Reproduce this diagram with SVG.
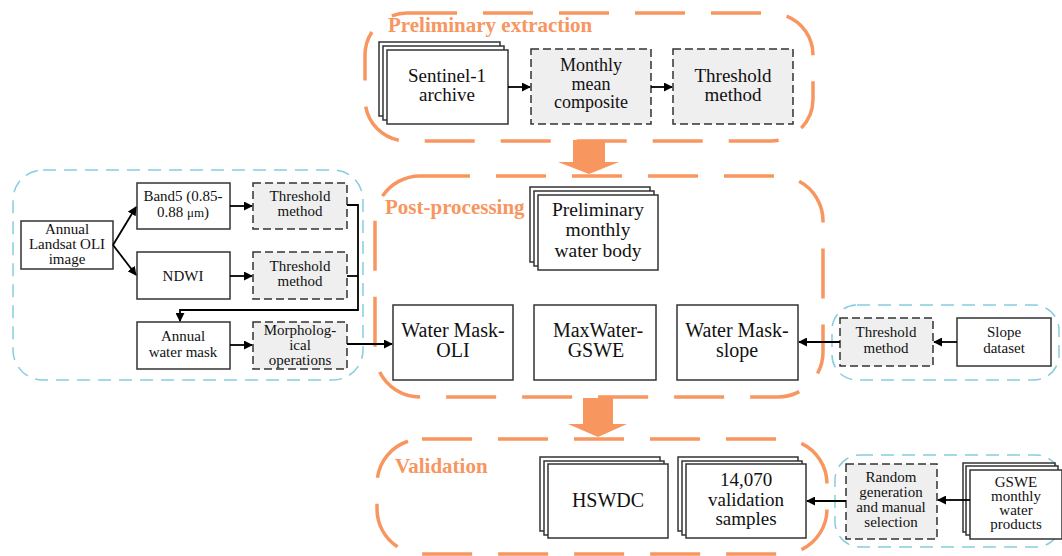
<svg xmlns="http://www.w3.org/2000/svg" width="1062" height="556" viewBox="0 0 1062 556">
<defs>
<style>
text{font-family:"Liberation Serif","Times New Roman","DejaVu Serif",serif;}
.grp-o{fill:none;stroke:#f7965f;stroke-width:3.5;stroke-dasharray:50 26;}
.grp-c{fill:none;stroke:#86cde0;stroke-width:1.5;stroke-dasharray:13 8;}
.title{font-weight:bold;font-size:21px;fill:#f7965f;}
.box{fill:#fff;stroke:#333;stroke-width:1.5;}
.dbox{fill:#efefef;stroke:#333;stroke-width:1.5;stroke-dasharray:8 4;}
.t20{font-size:19px;fill:#111;text-anchor:middle;}
.t21{font-size:20px;fill:#111;text-anchor:middle;}
.t16{font-size:15px;fill:#111;text-anchor:middle;}
.con{fill:none;stroke:#000;stroke-width:1.8;}
.big{fill:#f7965f;stroke:none;}
</style>
<marker id="ah" viewBox="0 0 10 10" refX="9" refY="5" markerWidth="5" markerHeight="5" orient="auto" markerUnits="strokeWidth">
<path d="M0,0 L10,5 L0,10 Z" fill="#000"/>
</marker>
</defs>
<rect width="1062" height="556" fill="#fff"/>

<!-- group containers -->
<g id="group-preliminary">
<rect class="grp-o" x="365" y="13" width="448" height="128" rx="42"/>
<text class="title" x="388" y="32">Preliminary extraction</text>
</g>
<g id="group-postprocessing">
<rect class="grp-o" x="375" y="176" width="448" height="221" rx="45"/>
<text class="title" x="385" y="214">Post-processing</text>
</g>
<g id="group-validation">
<rect class="grp-o" x="377" y="439" width="450" height="115" rx="45"/>
<text class="title" x="395" y="473">Validation</text>
</g>
<g id="group-landsat">
<rect class="grp-c" x="13" y="170" width="350" height="210" rx="30"/>
</g>
<g id="group-slope">
<rect class="grp-c" x="832" y="305" width="227" height="75" rx="25"/>
</g>
<g id="group-gswe">
<rect class="grp-c" x="835" y="455" width="226" height="92" rx="25"/>
</g>

<!-- big orange arrows -->
<g id="flow-arrows">
<path class="big" d="M573,140 L605,140 L605,162 L619,162 L589,174 L558,162 L573,162 Z"/>
<path class="big" d="M583,398 L613,398 L613,424 L627,424 L598,437 L568,424 L583,424 Z"/>
</g>

<!-- nodes -->
<g id="sentinel1">
<rect class="box" x="379" y="42" width="121" height="74"/>
<rect class="box" x="383" y="46" width="121" height="74"/>
<rect class="box" x="387" y="50" width="121" height="74"/>
<text class="t20" x="447" y="82">Sentinel-1</text>
<text class="t20" x="447" y="101">archive</text>
</g>
<g id="monthly-composite">
<rect class="dbox" x="531" y="49" width="120" height="75"/>
<text class="t20" x="591" y="71" style="font-size:18px">Monthly</text>
<text class="t20" x="591" y="89.5" style="font-size:18px">mean</text>
<text class="t20" x="591" y="108" style="font-size:18px">composite</text>
</g>
<g id="threshold-s1">
<rect class="dbox" x="673" y="49" width="120" height="75"/>
<text class="t20" x="733" y="82">Threshold</text>
<text class="t20" x="733" y="101">method</text>
</g>

<g id="prelim-water">
<rect class="box" x="530" y="187" width="120" height="75"/>
<rect class="box" x="534" y="191" width="120" height="75"/>
<rect class="box" x="538" y="195" width="120" height="75"/>
<text class="t21" x="598" y="216" style="font-size:19.5px">Preliminary</text>
<text class="t21" x="598" y="236" style="font-size:19.5px">monthly</text>
<text class="t21" x="598" y="257" style="font-size:19.5px">water body</text>
</g>
<g id="watermask-oli">
<rect class="box" x="393" y="305" width="120" height="75"/>
<text class="t21" x="453" y="337">Water Mask-</text>
<text class="t21" x="453" y="357">OLI</text>
</g>
<g id="maxwater-gswe">
<rect class="box" x="534" y="305" width="122" height="75"/>
<text class="t21" x="598" y="337">MaxWater-</text>
<text class="t21" x="596" y="357">GSWE</text>
</g>
<g id="watermask-slope">
<rect class="box" x="677" y="305" width="121" height="75"/>
<text class="t21" x="737" y="337">Water Mask-</text>
<text class="t21" x="737" y="357">slope</text>
</g>

<g id="landsat">
<rect class="box" x="21" y="221" width="92" height="48"/>
<text class="t16" x="67" y="234">Annual</text>
<text class="t16" x="67" y="249">Landsat OLI</text>
<text class="t16" x="67" y="264">image</text>
</g>
<g id="band5">
<rect class="box" x="137" y="183" width="93" height="46"/>
<text class="t16" x="183" y="201">Band5 (0.85-</text>
<text class="t16" x="183" y="217">0.88 <tspan style="font-size:13px">μm</tspan>)</text>
</g>
<g id="threshold-band5">
<rect class="dbox" x="253" y="183" width="94" height="46"/>
<text class="t16" x="300" y="201">Threshold</text>
<text class="t16" x="300" y="216">method</text>
</g>
<g id="ndwi">
<rect class="box" x="137" y="252" width="93" height="47"/>
<text class="t16" x="183" y="281">NDWI</text>
</g>
<g id="threshold-ndwi">
<rect class="dbox" x="253" y="252" width="94" height="47"/>
<text class="t16" x="300" y="271">Threshold</text>
<text class="t16" x="300" y="286">method</text>
</g>
<g id="annual-water-mask">
<rect class="box" x="137" y="322" width="93" height="47"/>
<text class="t16" x="183" y="341">Annual</text>
<text class="t16" x="183" y="357">water mask</text>
</g>
<g id="morphological">
<rect class="dbox" x="253" y="322" width="94" height="47"/>
<text class="t16" x="300" y="335">Morpholog-</text>
<text class="t16" x="300" y="350">ical</text>
<text class="t16" x="300" y="365">operations</text>
</g>

<g id="threshold-slope">
<rect class="dbox" x="840" y="318" width="93" height="48"/>
<text class="t16" x="886" y="337">Threshold</text>
<text class="t16" x="886" y="353">method</text>
</g>
<g id="slope-dataset">
<rect class="box" x="957" y="318" width="94" height="48"/>
<text class="t16" x="1004" y="337">Slope</text>
<text class="t16" x="1004" y="353">dataset</text>
</g>

<g id="hswdc">
<rect class="box" x="540" y="457" width="120" height="74"/>
<rect class="box" x="544" y="461" width="120" height="74"/>
<rect class="box" x="548" y="464" width="120" height="74"/>
<text class="t21" x="608" y="507">HSWDC</text>
</g>
<g id="validation-samples">
<rect class="box" x="678" y="457" width="120" height="74"/>
<rect class="box" x="682" y="461" width="120" height="74"/>
<rect class="box" x="686" y="464" width="120" height="74"/>
<text class="t21" x="746" y="486" style="font-size:19px">14,070</text>
<text class="t21" x="746" y="505.5" style="font-size:19px">validation</text>
<text class="t21" x="746" y="525" style="font-size:19px">samples</text>
</g>
<g id="random-generation">
<rect class="dbox" x="846" y="464" width="91" height="75"/>
<text class="t16" x="891" y="482">Random</text>
<text class="t16" x="891" y="497">generation</text>
<text class="t16" x="891" y="512">and manual</text>
<text class="t16" x="891" y="527">selection</text>
</g>
<g id="gswe-products">
<rect class="box" x="963" y="463" width="92" height="69"/>
<rect class="box" x="966" y="466" width="92" height="69"/>
<rect class="box" x="970" y="470" width="92" height="69"/>
<text class="t16" x="1016" y="487">GSWE</text>
<text class="t16" x="1016" y="501">monthly</text>
<text class="t16" x="1016" y="515">water</text>
<text class="t16" x="1016" y="529">products</text>
</g>

<!-- connectors -->
<g id="connectors">
<line class="con" x1="508" y1="87" x2="530" y2="87" marker-end="url(#ah)"/>
<line class="con" x1="651" y1="87" x2="672" y2="87" marker-end="url(#ah)"/>
<line class="con" x1="113" y1="245" x2="136" y2="207" marker-end="url(#ah)"/>
<line class="con" x1="113" y1="245" x2="136" y2="275" marker-end="url(#ah)"/>
<line class="con" x1="230" y1="206" x2="252" y2="206" marker-end="url(#ah)"/>
<line class="con" x1="230" y1="276" x2="252" y2="276" marker-end="url(#ah)"/>
<polyline class="con" points="347,205 358,205 358,310 180,310 180,321" marker-end="url(#ah)"/>
<line class="con" x1="347" y1="276" x2="358" y2="276"/>
<line class="con" x1="230" y1="345" x2="252" y2="345" marker-end="url(#ah)"/>
<line class="con" x1="347" y1="344" x2="392" y2="344" marker-end="url(#ah)"/>
<line class="con" x1="957" y1="342" x2="934" y2="342" marker-end="url(#ah)"/>
<line class="con" x1="840" y1="342" x2="799" y2="342" marker-end="url(#ah)"/>
<line class="con" x1="970" y1="500" x2="938" y2="500" marker-end="url(#ah)"/>
<line class="con" x1="846" y1="501" x2="807" y2="501" marker-end="url(#ah)"/>
</g>
</svg>
